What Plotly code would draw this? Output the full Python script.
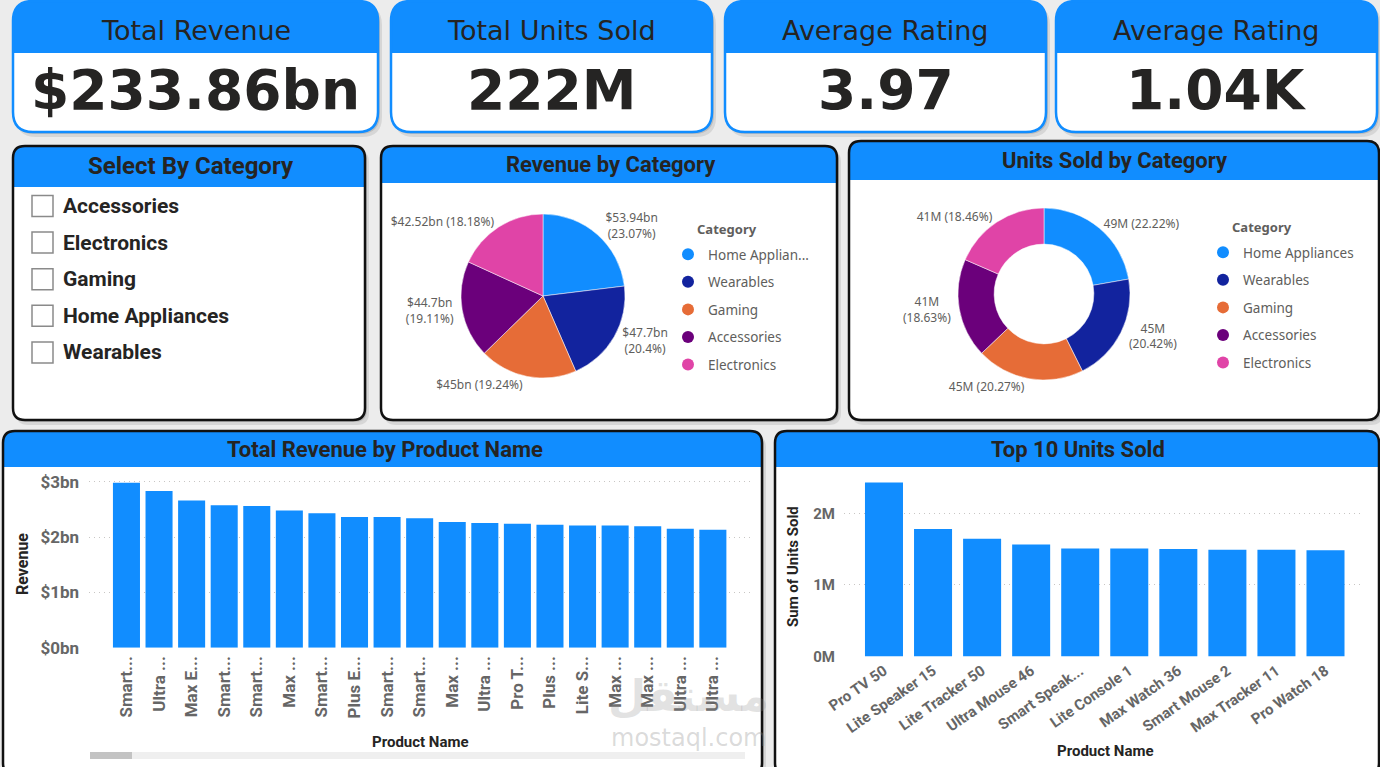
import plotly.graph_objects as go

W, H = 1380, 767

# ---------------- data ----------------
kpi_titles = ["Total Revenue", "Total Units Sold", "Average Rating", "Average Rating"]
kpi_values = ["$233.86bn", "222M", "3.97", "1.04K"]

slicer_title = "Select By Category"
slicer_items = ["Accessories", "Electronics", "Gaming", "Home Appliances", "Wearables"]

categories = ["Home Appliances", "Wearables", "Gaming", "Accessories", "Electronics"]
legend1_names = ["Home Applian...", "Wearables", "Gaming", "Accessories", "Electronics"]
cat_colors = ["#118DFF", "#12239E", "#E66C37", "#6B007B", "#E044A7"]
revenue_bn = [53.94, 47.7, 45.0, 44.7, 42.52]
units_m = [49.33, 45.33, 45.0, 41.36, 40.98]

product_labels = ["Smart...", "Ultra ...", "Max E...", "Smart...", "Smart...", "Max ...",
                  "Smart...", "Plus E...", "Smart...", "Smart...", "Max ...", "Ultra ...",
                  "Pro T...", "Plus ...", "Lite S...", "Max ...", "Max ...", "Ultra ...",
                  "Ultra ..."]
product_revenue_bn = [2.98, 2.83, 2.66, 2.575, 2.56, 2.48, 2.43, 2.36, 2.36, 2.34,
                      2.27, 2.255, 2.24, 2.22, 2.21, 2.21, 2.195, 2.15, 2.13]
rev_ticks = [0, 1, 2, 3]

top10_names = ["Pro TV 50", "Lite Speaker 15", "Lite Tracker 50", "Ultra Mouse 46",
               "Smart Speak...", "Lite Console 1", "Max Watch 36", "Smart Mouse 2",
               "Max Tracker 11", "Pro Watch 18"]
top10_units_m = [2.43, 1.78, 1.645, 1.565, 1.51, 1.51, 1.50, 1.49, 1.49, 1.485]
units_ticks = [0, 1, 2]

# ---------------- helpers ----------------
BLUE = "#118DFF"
DARK = "#252423"
GRAY = "#605E5C"


def X(x):
    return x / W


def Y(y):
    return 1 - y / H


def rrect(x0, y0, x1, y1, r, top=True, bottom=True):
    rt = r if top else 0
    rb = r if bottom else 0
    p = f"M {X(x0 + rt)},{Y(y0)} L {X(x1 - rt)},{Y(y0)} "
    if rt:
        p += f"Q {X(x1)},{Y(y0)} {X(x1)},{Y(y0 + rt)} "
    p += f"L {X(x1)},{Y(y1 - rb)} "
    if rb:
        p += f"Q {X(x1)},{Y(y1)} {X(x1 - rb)},{Y(y1)} "
    p += f"L {X(x0 + rb)},{Y(y1)} "
    if rb:
        p += f"Q {X(x0)},{Y(y1)} {X(x0)},{Y(y1 - rb)} "
    p += f"L {X(x0)},{Y(y0 + rt)} "
    if rt:
        p += f"Q {X(x0)},{Y(y0)} {X(x0 + rt)},{Y(y0)} "
    return p + "Z"


shapes = []
annotations = []


def path_shape(p, fill=None, line_color=None, line_width=0):
    shapes.append(dict(type="path", path=p, xref="paper", yref="paper",
                       fillcolor=fill if fill else "rgba(0,0,0,0)",
                       line=dict(color=line_color if line_color else "rgba(0,0,0,0)",
                                 width=line_width),
                       layer="below"))


def panel(x0, y0, x1, y1, yh, r, border, bw):
    path_shape(rrect(x0 + 3, y0 + 4, x1 + 4, y1 + 5, r), fill="rgba(0,0,0,0.09)")
    path_shape(rrect(x0 + 1, y0 + 2, x1 + 2, y1 + 2, r), fill="rgba(0,0,0,0.12)")
    path_shape(rrect(x0, y0, x1, y1, r), fill="white")
    path_shape(rrect(x0, y0, x1, yh, r, top=True, bottom=False), fill=BLUE)
    path_shape(rrect(x0, y0, x1, y1, r), line_color=border, line_width=bw)


def ann(text, x, y, size, color=DARK, family="Roboto", weight="normal",
        xanchor="center", yanchor="middle", angle=0):
    annotations.append(dict(text=text, x=X(x), y=Y(y), xref="paper", yref="paper",
                            showarrow=False, xanchor=xanchor, yanchor=yanchor,
                            textangle=angle,
                            font=dict(size=size, color=color, family=family, weight=weight)))


# ---------------- KPI cards ----------------
kpi_boxes = [(13, 378), (391, 712), (725, 1046), (1056, 1377)]
for (x0, x1), t, v in zip(kpi_boxes, kpi_titles, kpi_values):
    panel(x0, 1, x1, 132, 53, 20, BLUE, 2.5)
    ann(t, (x0 + x1) / 2, 30, 27, family="DejaVu Sans")
    ann(v, (x0 + x1) / 2, 90, 55, family="DejaVu Sans", weight="bold")

# ---------------- slicer ----------------
panel(13, 146, 365, 420, 187, 12, "#111111", 2.5)
ann(slicer_title, 191, 166, 24, weight="bold")
for i, item in enumerate(slicer_items):
    yc = 206 + i * 36.6
    shapes.append(dict(type="rect", xref="paper", yref="paper",
                       x0=X(32), x1=X(53), y0=Y(yc - 10.5), y1=Y(yc + 10.5),
                       fillcolor="white", line=dict(color="#8a8a8a", width=1.5),
                       layer="below"))
    ann(item, 61, yc, 21, weight="bold", xanchor="left")

# ---------------- pie panels ----------------
panel(381, 146, 837, 420, 183, 12, "#111111", 2.5)
ann("Revenue by Category", 611, 164, 22, weight="bold")
panel(849, 141, 1379, 420, 180, 12, "#111111", 2.5)
ann("Units Sold by Category", 1115, 160, 22, weight="bold")
ann("Category", 695, 229, 13, color=GRAY, family="Noto Sans", weight="bold", xanchor="left")
ann("Category", 1230, 227, 13, color=GRAY, family="Noto Sans", weight="bold", xanchor="left")

# ---------------- bar panels ----------------
panel(3, 431, 762, 775, 467, 12, "#111111", 2.5)
ann("Total Revenue by Product Name", 385, 449, 22, weight="bold")
panel(775, 431, 1379, 775, 467, 12, "#111111", 2.5)
ann("Top 10 Units Sold", 1078, 449, 22, weight="bold")

ann("Revenue", 22, 564, 16, weight="bold", angle=-90)
ann("Product Name", 420, 742, 15, weight="bold")
ann("Sum of Units Sold", 793, 567, 15, weight="bold", angle=-90)
ann("Product Name", 1105, 751, 15, weight="bold")

# scrollbar
shapes.append(dict(type="rect", xref="paper", yref="paper", x0=X(90), x1=X(745),
                   y0=Y(752), y1=Y(759), fillcolor="#efefef", line=dict(width=0), layer="below"))
shapes.append(dict(type="rect", xref="paper", yref="paper", x0=X(90), x1=X(132),
                   y0=Y(752), y1=Y(759), fillcolor="#c3c3c3", line=dict(width=0), layer="below"))

# watermark
ann("مستقل", 688, 695, 44, color="rgba(140,140,140,0.25)", family="DejaVu Sans", weight="bold")
ann("mostaql.com", 688, 738, 24, color="rgba(140,140,140,0.33)", family="DejaVu Sans")

# ---------------- traces ----------------
fig = go.Figure()

rev_total = sum(revenue_bn)
rev_sep = ["<br>", "<br>", " ", "<br>", " "]
rev_text = [f"${v:g}bn{s}({round(v / rev_total * 100, 2):g}%)" for v, s in zip(revenue_bn, rev_sep)]
fig.add_trace(go.Pie(
    labels=categories, values=revenue_bn, text=rev_text, textinfo="text",
    textposition="outside", sort=False, direction="clockwise", rotation=0,
    marker=dict(colors=cat_colors, line=dict(color="white", width=0.5)),
    textfont=dict(size=12, color=GRAY, family="Noto Sans"),
    domain=dict(x=[X(461), X(625)], y=[Y(378), Y(214)]),
    showlegend=False, automargin=False))

units_total = sum(units_m)
units_sep = [" ", "<br>", " ", "<br>", " "]
units_text = [f"{round(v)}M{s}({round(v / units_total * 100, 2):g}%)" for v, s in zip(units_m, units_sep)]
fig.add_trace(go.Pie(
    labels=categories, values=units_m, text=units_text, textinfo="text",
    textposition="outside", sort=False, direction="clockwise", rotation=0, hole=0.58,
    marker=dict(colors=cat_colors, line=dict(color="white", width=0.5)),
    textfont=dict(size=12, color=GRAY, family="Noto Sans"),
    domain=dict(x=[X(958), X(1130)], y=[Y(380), Y(208)]),
    showlegend=False, automargin=False))

for i, (n, c) in enumerate(zip(legend1_names, cat_colors)):
    fig.add_trace(go.Scatter(x=[None], y=[None], mode="markers", name=n,
                             marker=dict(color=c, size=12, symbol="circle"),
                             xaxis="x3", yaxis="y3", legend="legend",
                             legendgroup=f"a{i}", showlegend=True))
for i, (n, c) in enumerate(zip(categories, cat_colors)):
    fig.add_trace(go.Scatter(x=[None], y=[None], mode="markers", name=n,
                             marker=dict(color=c, size=12, symbol="circle"),
                             xaxis="x3", yaxis="y3", legend="legend2",
                             legendgroup=f"b{i}", showlegend=True))

fig.add_trace(go.Bar(x=list(range(len(product_revenue_bn))), y=product_revenue_bn,
                     marker=dict(color=BLUE), width=0.83, xaxis="x", yaxis="y",
                     showlegend=False))
fig.add_trace(go.Bar(x=top10_names, y=top10_units_m, marker=dict(color=BLUE),
                     width=0.775, xaxis="x2", yaxis="y2", showlegend=False))

tick_font = dict(family="Roboto", weight="bold", color="#666666")

legend_common = dict(xanchor="left", yanchor="top", bgcolor="rgba(0,0,0,0)",
                     font=dict(size=13.5, color=GRAY, family="Noto Sans"),
                     traceorder="grouped", tracegroupgap=7, itemclick=False,
                     itemdoubleclick=False)

rev_y0 = 647.7
rev_ppu = 55.33
un_y0 = 656.5
un_ppu = 71.6
GRID = "#C8C6C4"
DOTS = "1px,4px"

fig.update_layout(
    template="none",
    width=W, height=H, margin=dict(l=0, r=0, t=0, b=0, pad=0, autoexpand=False),
    paper_bgcolor="#ECECEC", plot_bgcolor="rgba(0,0,0,0)",
    shapes=shapes, annotations=annotations,
    legend=dict(x=X(668), y=Y(239), **legend_common),
    legend2=dict(x=X(1203), y=Y(237), **legend_common),
    xaxis=dict(domain=[X(89), X(750)], range=[-1.15, 19.14], anchor="y",
               tickmode="array", tickvals=list(range(len(product_labels))),
               ticktext=product_labels, tickangle=-90,
               tickfont=dict(size=17, **tick_font), showgrid=False, zeroline=False,
               showline=False, ticks="", ticklabelstandoff=4, fixedrange=True,
               automargin=False),
    yaxis=dict(domain=[Y(rev_y0), Y(rev_y0 - 3.05 * rev_ppu)], range=[0, 3.05], anchor="x",
               tickmode="array", tickvals=rev_ticks,
               ticktext=[f"${t}bn" for t in rev_ticks],
               tickfont=dict(size=17, **tick_font), showgrid=True, gridcolor=GRID,
               griddash=DOTS, gridwidth=1, zeroline=False, showline=False, ticks="",
               ticklabelstandoff=9, fixedrange=True, automargin=False),
    xaxis2=dict(domain=[X(844), X(1362)], range=[-0.815, 9.744], anchor="y2",
                type="category",
                tickangle=-35, tickfont=dict(size=15, **tick_font), showgrid=False,
                zeroline=False, showline=False, ticks="", ticklabelstandoff=2,
                fixedrange=True, automargin=False),
    yaxis2=dict(domain=[Y(un_y0), Y(un_y0 - 2.55 * un_ppu)], range=[0, 2.55], anchor="x2",
                tickmode="array", tickvals=units_ticks,
                ticktext=[f"{t}M" for t in units_ticks],
                tickfont=dict(size=15, **tick_font), showgrid=True, gridcolor=GRID,
                griddash=DOTS, gridwidth=1, zeroline=False, showline=False, ticks="",
                ticklabelstandoff=8, fixedrange=True, automargin=False),
    xaxis3=dict(domain=[0, 0.01], visible=False, anchor="y3"),
    yaxis3=dict(domain=[0, 0.01], visible=False, anchor="x3"),
)

fig.write_html("out.html")
